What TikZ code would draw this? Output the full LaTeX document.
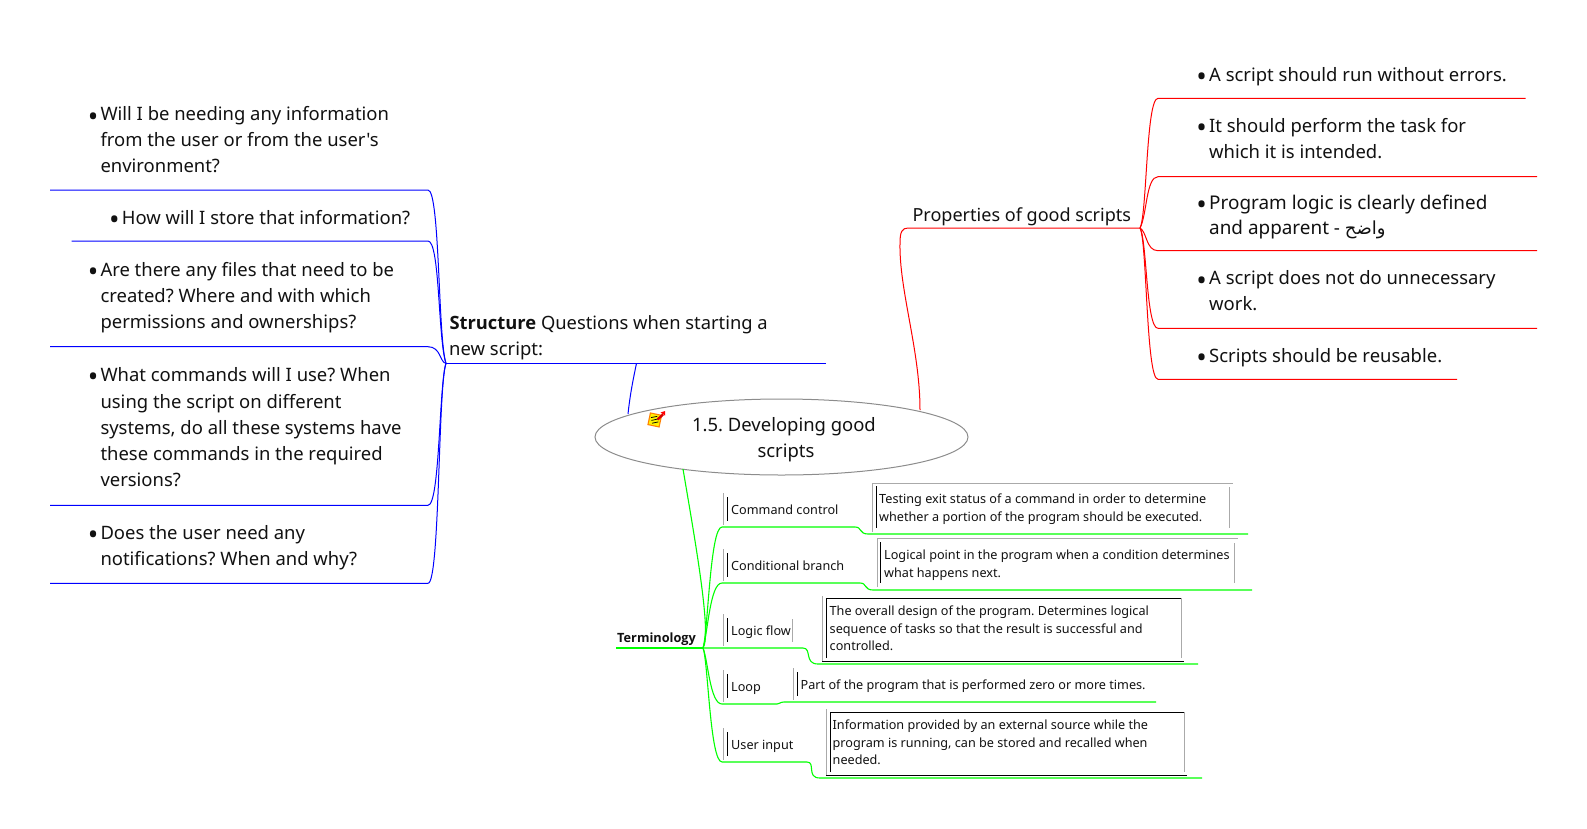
\documentclass[tikz,border=0pt]{standalone}
\usetikzlibrary{shapes.geometric}
\usepackage{fontspec}
\setmainfont[Ligatures=TeXOff]{Noto Sans}
\newfontfamily\boldfam{Open Sans}
\newfontfamily\arabicfont[Script=Arabic]{DejaVu Sans}
\TeXXeTstate=1
\frenchspacing
\definecolor{lbl}{HTML}{111111}
\definecolor{edgegray}{HTML}{AAAAAA}
\definecolor{ellgray}{HTML}{8C8C8C}
\definecolor{bluel}{HTML}{0000FF}
\definecolor{redl}{HTML}{FF0000}
\definecolor{greenl}{HTML}{00FF00}
\newcommand{\bul}{\llap{\raisebox{-5.4pt}{\fontsize{28}{28}\selectfont\textbullet}\hspace{2.2pt}}}
\newcommand{\bigsize}[1]{\fontsize{#1}{26}\selectfont}
\tikzset{
  big/.style={anchor=base west,inner sep=0pt,align=left,text=lbl,font=\fontsize{18.45}{26}\selectfont\frenchspacing},
  small/.style={anchor=base west,inner sep=0pt,align=left,text=lbl,font=\fontsize{12.65}{17.8}\selectfont\frenchspacing},
  bl/.style={draw=bluel,line width=1pt},
  rd/.style={draw=redl,line width=1pt},
  gr/.style={draw=greenl,line width=1.1pt},
  gy/.style={draw=edgegray,line width=0.9pt},
  bk/.style={draw=black,line width=1pt}
}
\begin{document}
\begin{tikzpicture}[x=1pt,y=-1pt]
\useasboundingbox (0,0) rectangle (1587,828);
% root
\node[draw=ellgray,line width=1pt,ellipse,minimum width=373pt,minimum height=76pt,inner sep=0pt] (root) at (781.5,437) {};
\node[big,anchor=base,align=center] (roottxt) at (784,431.7) {1.5. Developing good};
\node[big,anchor=base] (roottxt2) at (786,457.7) {scripts};
% icon
\fill[orange,rotate around={-12:(655,420)}] (648.5,413.5) rectangle (661,426.5);
\fill[yellow,rotate around={-12:(655,420)}] (649.7,414.7) rectangle (659.8,425.3);
\draw[black,line width=0.7pt] (651,417.6)--(657.4,416.3) (651.4,420.4)--(658,419) (652,423.2)--(658.4,421.9);
\draw[red!85!black,line width=2.4pt] (657.5,419.5)--(663,414.5);
\fill[red] (665,411)--(665,415.5)--(660.5,412.5)--cycle;
% coordinates
\coordinate (rB) at (628,414);
\coordinate (rR) at (920,410);
\coordinate (rG) at (683,469);
\coordinate (hB) at (446,363.3);
\coordinate (hR) at (1140,228);
\coordinate (hG) at (703,648);
% structure (blue)
\node[big,font=\bigsize{18.35}\frenchspacing] (st) at (449.3,329.3) {{\boldfam\bfseries Structure} Questions when starting a};
\node[big] (st2) at (449,355) {new script:};
\draw[bl] (hB) -- (825.7,363.3) coordinate (stE);
\draw[bl] (rB) .. controls (630,395) and (633,380) .. (636.5,363.3) coordinate (stJ);
\node[big] (b1a) at (100.3,120.7) {\bul Will I be needing any information};
\node[big] (b1b) at (100.3,146.7) {from the user or from the user's};
\node[big] (b1c) at (100.3,172.7) {environment?};
\node[big] (b2a) at (121.7,224.3) {\bul How will I store that information?};
\node[big] (b3a) at (100.3,276) {\bul Are there any files that need to be};
\node[big] (b3b) at (100.3,302) {created? Where and with which};
\node[big] (b3c) at (100.3,328) {permissions and ownerships?};
\node[big] (b4a) at (100.3,381) {\bul What commands will I use? When};
\node[big] (b4b) at (100.3,408) {using the script on different};
\node[big] (b4c) at (100.3,434) {systems, do all these systems have};
\node[big] (b4d) at (100.3,460) {these commands in the required};
\node[big] (b4e) at (100.3,486) {versions?};
\node[big] (b5a) at (100.3,539) {\bul Does the user need any};
\node[big] (b5b) at (100.3,565) {notifications? When and why?};
\coordinate (bk1) at (428,190);
\coordinate (bk2) at (428,241);
\coordinate (bk3) at (428,346.7);
\coordinate (bk4) at (428,505.3);
\coordinate (bk5) at (428,583.3);
\draw[bl] (hB) .. controls (438,340) and (440,190) .. (bk1) -- (50,190);
\draw[bl] (hB) .. controls (438,340) and (440,241) .. (bk2) -- (71.7,241);
\draw[bl] (hB) .. controls (440,363) and (441,346.7) .. (bk3) -- (50,346.7);
\draw[bl] (hB) .. controls (439,385) and (440,505.3) .. (bk4) -- (50,505.3);
\draw[bl] (hB) .. controls (438,385) and (440,583.3) .. (bk5) -- (50,583.3);
% properties (red)
\node[big,font=\bigsize{18.05}] (pr) at (912.3,221) {Properties of good scripts};
\draw[rd] (rR) .. controls (920,350) and (899,290) .. (900,243) .. controls (900,232) and (902,228) .. (908,228) -- (hR);
\node[big] (r1) at (1209,81) {\bul A script should run without errors.};
\node[big] (r2a) at (1209,132) {\bul It should perform the task for};
\node[big] (r2b) at (1209,158) {which it is intended.};
\node[big,font=\bigsize{18.9}] (r3a) at (1209,209.3) {\bul Program logic is clearly defined};
\node[big,font=\bigsize{18.9}] (r3b) at (1209,234.3) {and apparent - {\arabicfont\fontsize{18}{26}\selectfont\beginR واضح\endR}};
\node[big] (r4a) at (1209,284.7) {\bul A script does not do unnecessary};
\node[big] (r4b) at (1209,310) {work.};
\node[big] (r5) at (1209,362) {\bul Scripts should be reusable.};
\coordinate (rk1) at (1158,98.3);
\coordinate (rk2) at (1158,176.7);
\coordinate (rk3) at (1158,250.7);
\coordinate (rk4) at (1158,328.3);
\coordinate (rk5) at (1158,379.3);
\draw[rd] (hR) .. controls (1147,215) and (1146,98.3) .. (rk1) -- (1525.7,98.3);
\draw[rd] (hR) .. controls (1147,215) and (1146,176.7) .. (rk2) -- (1537,176.7);
\draw[rd] (hR) .. controls (1147,232) and (1146,250.7) .. (rk3) -- (1537,250.7);
\draw[rd] (hR) .. controls (1147,240) and (1146,328.3) .. (rk4) -- (1537,328.3);
\draw[rd] (hR) .. controls (1147,240) and (1146,379.3) .. (rk5) -- (1457,379.3);
% terminology (green)
\node[small,font=\fontsize{12.75}{17.8}\boldfam\bfseries] (term) at (617,642.3) {Terminology};
\draw[gr] (rG) .. controls (695,540) and (712,635) .. (hG);
\draw[gr] (616,648) -- (hG);
\coordinate (gk1) at (722,527);
\coordinate (gk2) at (722,583);
\coordinate (gk3) at (803,648);
\coordinate (gk4) at (722,704);
\coordinate (gk5) at (722,762);
\draw[gr] (hG) .. controls (708,632) and (710,527) .. (gk1) -- (855,527) .. controls (862,527) and (859,534) .. (868,534) -- (1248,534);
\draw[gr] (hG) .. controls (708,632) and (710,583) .. (gk2) -- (860,583) .. controls (867,583) and (864,590) .. (873,590) -- (1252,590);
\draw[gr] (hG) -- (gk3) .. controls (812,648) and (804,664) .. (818,664) -- (1198,664);
\draw[gr] (hG) .. controls (708,660) and (710,704) .. (gk4) -- (777,704) .. controls (780,704) and (780,702) .. (784,702) -- (1156,702);
\draw[gr] (hG) .. controls (708,660) and (710,762) .. (gk5) -- (807,762) .. controls (816,762) and (806,778) .. (820,778) -- (1202,778);
% labels
\node[small] (l1) at (731,514.3) {Command control};
\node[small] (l2) at (731,570.3) {Conditional branch};
\node[small] (l3) at (731,635.3) {Logic flow};
\node[small] (l4) at (731,691.3) {Loop};
\node[small] (l5) at (731,749.3) {User input};
\draw[gy] (723,493)--(723,525) (723,549)--(723,581) (723,614)--(723,646) (723,670)--(723,702) (723,728)--(723,760);
\draw[bk] (727,497)--(727,521) (727,553)--(727,577) (727,618)--(727,642) (727,674)--(727,698) (727,732)--(727,756);
\draw[gy] (792.5,619)--(792.5,642);
% descriptions
\node[small] (d1a) at (879,503) {Testing exit status of a command in order to determine};
\node[small] (d1b) at (879,521) {whether a portion of the program should be executed.};
\draw[gy] (872,532)--(872,483)--(1233,483) (1229,487)--(1229,528);
\draw[bk] (876,486)--(876,528);
\node[small] (d2a) at (884,559) {Logical point in the program when a condition determines};
\node[small] (d2b) at (884,577) {what happens next.};
\draw[gy] (877,587)--(877,538)--(1238,538) (1234,543)--(1234,583);
\draw[bk] (880.5,542)--(880.5,583);
\node[small] (d3a) at (829.5,615) {The overall design of the program. Determines logical};
\node[small] (d3b) at (829.5,633) {sequence of tasks so that the result is successful and};
\node[small] (d3c) at (829.5,650) {controlled.};
\draw[gy] (822,596)--(822,661) (1181,598)--(1181,658);
\draw[bk] (826,658)--(826,598)--(1181,598) (822,661)--(1184,661);
\node[small] (d4) at (800.5,689) {Part of the program that is performed zero or more times.};
\draw[gy] (793,668)--(793,700);
\draw[bk] (797,672)--(797,696);
\node[small] (d5a) at (832.5,729) {Information provided by an external source while the};
\node[small] (d5b) at (832.5,747) {program is running, can be stored and recalled when};
\node[small] (d5c) at (832.5,764) {needed.};
\draw[gy] (826,709)--(826,775) (1184,712)--(1184,772);
\draw[bk] (830,772)--(830,712)--(1184,712) (826,775)--(1187,775);
\end{tikzpicture}
\end{document}
